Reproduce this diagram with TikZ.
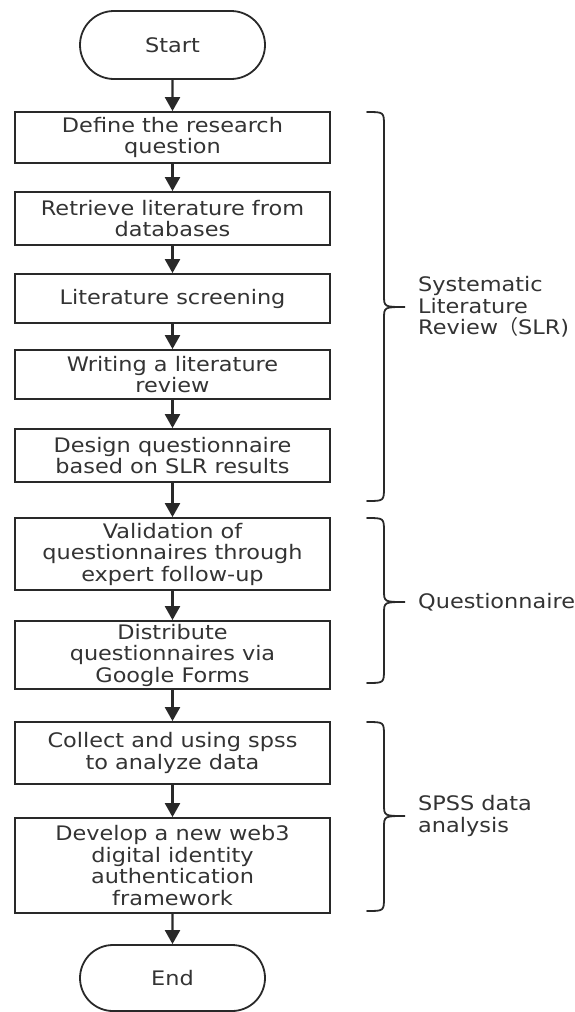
\documentclass[tikz,border=0pt]{standalone}
\usepackage{fontspec}
\setmainfont{DejaVu Sans}[FakeStretch=1.12]
\newfontfamily\cjk{Noto Sans CJK SC}
\usetikzlibrary{shapes.misc,arrows.meta}

\newcommand\flowfont{\fontsize{20}{21.5}\selectfont}
\colorlet{flowline}{black!84}
\colorlet{flowtext}{black!80}

\tikzset{
    stepbox/.style={draw=flowline,line width=1.8pt,minimum width=315pt,
        minimum height=#1,inner sep=0pt,align=center,text=flowtext,font=\flowfont},
    terminal/.style={draw=flowline,line width=1.8pt,rounded rectangle,
        minimum width=185pt,minimum height=#1,inner sep=0pt,text=flowtext,font=\flowfont},
    flow/.style={draw=flowline,line width=2.3pt,-{Triangle[width=15pt,length=14pt]}},
    grpbrace/.style={draw=flowline,line width=1.8pt,line cap=round},
    grplabel/.style={anchor=west,align=left,inner sep=0pt,text=flowtext,font=\flowfont}
}

\begin{document}
\begin{tikzpicture}[x=1pt,y=-1pt]
    \useasboundingbox (0,0) rectangle (575,1012);

    % flow of work
    \node [terminal=68pt] (start) at (172.5,45) {Start};
    \node [stepbox=51pt] (define) at (172.5,137.5) {Define the research\\question};
    \node [stepbox=53pt] (retrieve) at (172.5,218.5) {Retrieve literature from\\databases};
    \node [stepbox=49pt] (screen) at (172.5,298.5) {Literature screening};
    \node [stepbox=49pt] (write) at (172.5,374.5) {Writing a literature\\review};
    \node [stepbox=53pt] (design) at (172.5,455.5) {Design questionnaire\\based on SLR results};
    \node [stepbox=72pt] (validate) at (172.5,554) {Validation of\\questionnaires through\\expert follow-up};
    \node [stepbox=68pt] (distribute) at (172.5,655) {Distribute\\questionnaires via\\Google Forms};
    \node [stepbox=62pt] (collect) at (172.5,753) {Collect and using spss\\to analyze data};
    \node [stepbox=95pt] (develop) at (172.5,865.5) {Develop a new web3\\digital identity\\authentication\\framework};
    \node [terminal=66pt] (finish) at (172.5,978) {End};

    \foreach \a/\b in {start/define,define/retrieve,retrieve/screen,screen/write,
        write/design,design/validate,validate/distribute,distribute/collect,
        collect/develop,develop/finish} {
        \draw [flow] (\a) -- (\b);
    }

    % braces for the three phases
    \foreach \t/\m/\b in {112/307/501,518/602/683,722/816/911} {
        \draw [grpbrace] (367,\t) .. controls (384,\t) .. (384,\t+14)
            -- (384,\m-12) .. controls (384,\m) .. (405,\m)
            .. controls (384,\m) .. (384,\m+12)
            -- (384,\b-14) .. controls (384,\b) .. (367,\b);
    }

    \node [grplabel] (slr) at (418,307) {Systematic\\Literature\\Review{\cjk （}SLR)};
    \node [grplabel] (quest) at (418,602) {Questionnaire};
    \node [grplabel] (spss) at (418,816) {SPSS data\\analysis};
\end{tikzpicture}
\end{document}
